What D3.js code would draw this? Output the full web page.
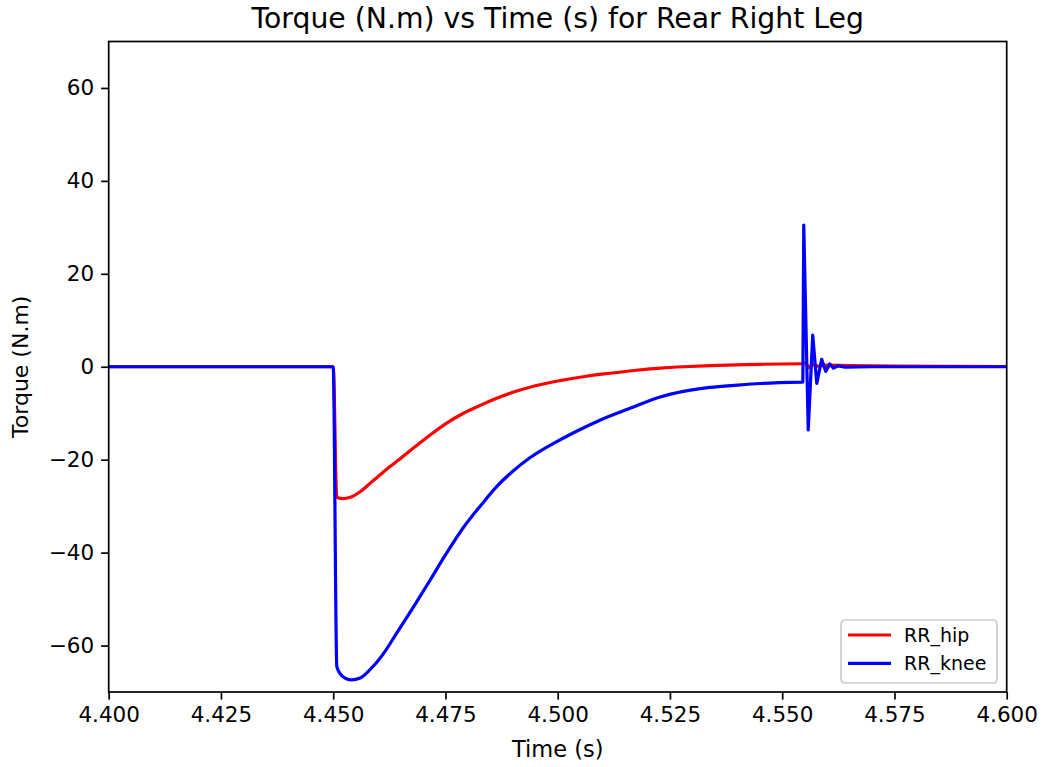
<html>
  <head>
    <title>Torque vs Time - Rear Right Leg</title>
    <script type="text/javascript" src="https://cdn.jsdelivr.net/npm/d3@7"></script>
    <style type="text/css">
        body { margin: 0; background: white; }
        svg text { font-family: "DejaVu Sans", sans-serif; fill: black; }
        .line { fill: none; stroke-width: 3.2; stroke-linejoin: round; stroke-linecap: butt; }
    </style>
  </head>
  <body>
    <div id="chart-container"></div>
    <script type="text/javascript">
      // hip torque
      var hipTime = [4.400, 4.450, 4.4508, 4.4522, 4.4538, 4.4560, 4.4582, 4.4610, 4.4641, 4.4680,
                     4.4716, 4.4750, 4.4790, 4.4830, 4.4864, 4.4900, 4.4938, 4.5005, 4.5060, 4.5116,
                     4.5170, 4.5228, 4.5280, 4.5339, 4.5400, 4.5451, 4.5547, 4.5552, 4.5560, 4.5570,
                     4.5580, 4.5600, 4.5650, 4.5750, 4.6000];
      var hipTorque = [0, 0, -28.1, -28.4, -28.1, -26.9, -25.1, -22.8, -20.4, -17.4,
                       -14.7, -12.3, -10.0, -8.2, -6.8, -5.5, -4.4, -3.0, -2.1, -1.4,
                       -0.8, -0.3, 0.0, 0.24, 0.4, 0.53, 0.65, 0.9, -0.2, 0.5,
                       0.1, 0.35, 0.25, 0.15, 0.05];

      // knee torque
      var kneeTime = [4.400, 4.450, 4.4508, 4.4515, 4.4528, 4.4541, 4.4560, 4.4582, 4.4610, 4.4641,
                      4.4680, 4.4716, 4.4750, 4.4790, 4.4830, 4.4864, 4.4900, 4.4938, 4.5000, 4.5050,
                      4.5094, 4.5160, 4.5228, 4.5280, 4.5339, 4.5400, 4.5451, 4.5546, 4.5548, 4.5558,
                      4.5568, 4.5577, 4.5588, 4.5597, 4.5606, 4.5614, 4.5625, 4.5640, 4.5700, 4.6000];
      var kneeTorque = [0, 0, -64.5, -66.0, -67.1, -67.4, -67.0, -65.2, -62.0, -57.4,
                        -51.5, -45.9, -40.5, -34.6, -29.7, -25.8, -22.5, -19.6, -16.0, -13.5,
                        -11.5, -9.0, -6.5, -5.3, -4.45, -3.95, -3.6, -3.3, 30.5, -13.6,
                        6.8, -3.6, 1.6, -1.0, 0.6, -0.3, 0.2, -0.1, 0, 0];

      // the ringing after this time is drawn with straight segments
      var ringStart = 4.5546;

      var seriesNames = ["RR_hip", "RR_knee"];
      var seriesColors = ["#ff0000", "#0000ff"];
      var xTicks = [4.400, 4.425, 4.450, 4.475, 4.500, 4.525, 4.550, 4.575, 4.600];
      var yTicks = [-60, -40, -20, 0, 20, 40, 60];

      var W = 1051, H = 767;
      var margin = {left: 108.7, right: W - 1006.7, top: 41.5, bottom: H - 692};
      var w = W - margin.left - margin.right,
          h = H - margin.top - margin.bottom;

      var svg = d3.select("#chart-container").append("svg")
          .attr("width", W)
          .attr("height", H);

      var x = d3.scaleLinear().domain([4.4, 4.6]).range([0, w]);
      var y = d3.scaleLinear().domain([-70, 70]).range([h, 0]);

      var g = svg.append("g")
          .attr("transform", "translate(" + margin.left + "," + margin.top + ")");

      var fmtY = function(d) { return d < 0 ? "\u2212" + Math.abs(d) : "" + d; };

      // axes
      var xAxis = g.append("g")
          .attr("transform", "translate(0," + h + ")")
          .call(d3.axisBottom(x).tickValues(xTicks).tickFormat(d3.format(".3f"))
                .tickSizeInner(7.6).tickSizeOuter(0).tickPadding(7));
      var yAxis = g.append("g")
          .call(d3.axisLeft(y).tickValues(yTicks).tickFormat(fmtY)
                .tickSizeInner(7.6).tickSizeOuter(0).tickPadding(7));
      [xAxis, yAxis].forEach(function(a) {
          a.select(".domain").remove();
          a.selectAll(".tick line").attr("stroke", "black").attr("stroke-width", 1.7);
          a.selectAll(".tick text").style("font-size", "21.5px")
              .style("font-family", "DejaVu Sans, sans-serif");
      });

      // lines: smooth part, then a straight-segment part for the ringing
      var smoothLine = d3.line()
          .curve(d3.curveMonotoneX)
          .x(function(d) { return x(d[0]); })
          .y(function(d) { return y(d[1]); });
      var sharpLine = d3.line()
          .x(function(d) { return x(d[0]); })
          .y(function(d) { return y(d[1]); });

      function pathFor(pts) {
          var before = pts.filter(function(p) { return p[0] <= ringStart + 0.00015; });
          var after = pts.filter(function(p) { return p[0] >= before[before.length - 1][0]; });
          return smoothLine(before) + sharpLine(after).replace(/^M/, "L");
      }

      var series = [
          d3.zip(hipTime, hipTorque),
          d3.zip(kneeTime, kneeTorque)
      ];

      svg.append("clipPath").attr("id", "plot-clip")
          .append("rect").attr("width", w).attr("height", h);

      g.selectAll("path.line")
          .data(series)
          .enter().append("path")
          .attr("class", "line")
          .attr("clip-path", "url(#plot-clip)")
          .attr("stroke", function(d, i) { return seriesColors[i]; })
          .attr("d", pathFor);

      // frame
      g.append("rect")
          .attr("width", w).attr("height", h)
          .attr("fill", "none").attr("stroke", "black").attr("stroke-width", 1.7);

      // titles
      svg.append("text")
          .attr("x", margin.left + w / 2).attr("y", 28)
          .attr("text-anchor", "middle")
          .style("font-size", "28.3px")
          .text("Torque (N.m) vs Time (s) for Rear Right Leg");

      svg.append("text")
          .attr("x", margin.left + w / 2).attr("y", 757)
          .attr("text-anchor", "middle")
          .style("font-size", "22.5px")
          .text("Time (s)");

      svg.append("text")
          .attr("transform", "translate(28," + (margin.top + h / 2) + ") rotate(-90)")
          .attr("text-anchor", "middle")
          .style("font-size", "22px")
          .text("Torque (N.m)");

      // legend
      var legend = svg.append("g").attr("transform", "translate(841,620)");
      legend.append("rect")
          .attr("width", 156).attr("height", 63).attr("rx", 4)
          .attr("fill", "white").attr("fill-opacity", 0.8)
          .attr("stroke", "#cccccc").attr("stroke-width", 1.7);
      var item = legend.selectAll("g.item")
          .data(seriesNames)
          .enter().append("g")
          .attr("class", "item")
          .attr("transform", function(d, i) { return "translate(0," + (15 + i * 28.3) + ")"; });
      item.append("line")
          .attr("x1", 7).attr("x2", 50)
          .attr("stroke", function(d, i) { return seriesColors[i]; })
          .attr("stroke-width", 3.2);
      item.append("text")
          .attr("x", 63).attr("y", 6.5)
          .style("font-size", "19px")
          .text(function(d) { return d; });
    </script>
  </body>
</html>
